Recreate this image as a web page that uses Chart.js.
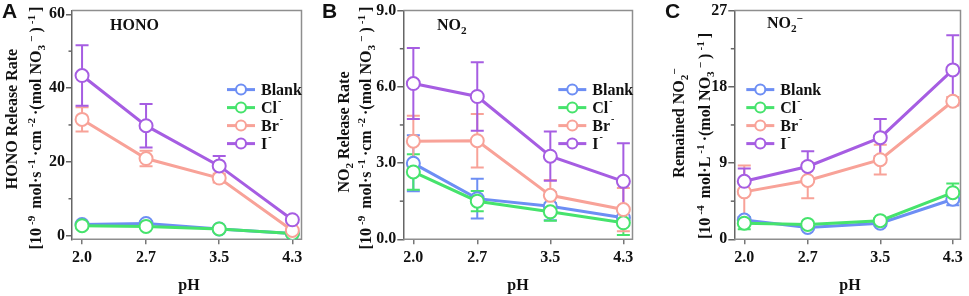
<!DOCTYPE html>
<html>
<head>
<meta charset="utf-8">
<script src="https://cdn.jsdelivr.net/npm/chart.js@4.4.1/dist/chart.umd.min.js"></script>
<style>
  body { margin: 0; background: #fff; }
  #fig { position: relative; width: 969px; height: 296px; overflow: hidden;
         font-family: "Liberation Serif", "Times New Roman", serif; font-weight: bold; color: #111; }
  .panel { position: absolute; top: 0; }
  .lbl { position: absolute; white-space: nowrap; line-height: 1; }
  .rot { transform: translate(-50%, -50%) rotate(-90deg); }
  .mid { transform: translate(-50%, -50%); }
  .vmid { transform: translateY(-50%); }
  .letter { font-family: "Liberation Sans", Arial, sans-serif; font-size: 21px; }
  sup, sub { font-size: 70%; line-height: 0; }
  .unit sup { margin: 0 3px; }
</style>
</head>
<body>
<div id="fig">
  <div class="panel" style="left:0px"><canvas id="cA" width="310" height="296"></canvas></div>
  <div class="panel" style="left:331px"><canvas id="cB" width="310" height="296"></canvas></div>
  <div class="panel" style="left:662px"><canvas id="cC" width="307" height="296"></canvas></div>

  <div class="lbl letter" style="left:2px;top:0px">A</div>
  <div class="lbl letter" style="left:322px;top:0px">B</div>
  <div class="lbl letter" style="left:665px;top:0px">C</div>

  <div class="lbl rot" style="left:12px;top:119px;font-size:16px">HONO Release Rate</div>
  <div class="lbl rot unit" style="left:36px;top:128px;font-size:16px">[10<sup>-9</sup> mol·s<sup>-1</sup>·cm<sup>-2</sup>·(mol NO<sub>3</sub><sup>−</sup>)<sup>-1</sup>]</div>
  <div class="lbl rot" style="left:344px;top:132px;font-size:16px">NO<sub>2</sub> Release Rate</div>
  <div class="lbl rot unit" style="left:366px;top:128px;font-size:16px">[10<sup>-9</sup> mol·s<sup>-1</sup>·cm<sup>-2</sup>·(mol NO<sub>3</sub><sup>−</sup>)<sup>-1</sup>]</div>
  <div class="lbl rot" style="left:679px;top:123px;font-size:16px">Remained NO<sub>2</sub><sup>−</sup></div>
  <div class="lbl rot unit" style="left:705px;top:136px;font-size:16px">[10<sup>-4</sup> mol·L<sup>-1</sup>·(mol NO<sub>3</sub><sup>−</sup>)<sup>-1</sup>]</div>

  <div class="lbl vmid" style="left:110px;top:25px;font-size:16px">HONO</div>
  <div class="lbl vmid" style="left:437px;top:25px;font-size:16px">NO<sub>2</sub></div>
  <div class="lbl vmid" style="left:767px;top:23px;font-size:16px">NO<sub>2</sub><sup>−</sup></div>

  <div class="lbl mid" style="left:189px;top:285px;font-size:16px">pH</div>
  <div class="lbl mid" style="left:518px;top:285px;font-size:16px">pH</div>
  <div class="lbl mid" style="left:850px;top:285px;font-size:16px">pH</div>
</div>
<script>
const phValues = [2.0, 2.7, 3.5, 4.3];
const seriesNames = ['Blank', 'Cl', 'Br', 'I'];
const seriesCharge = ['', '-', '-', '-'];
const seriesColors = ['#6d8ef4', '#46e36c', '#f8a298', '#a65de2'];

// A: HONO release rate
const honoBlank = [3.0, 3.3, 1.8, 0.6];
const honoBlankErr = [0.3, 0.6, 0.3, 0.2];
const honoCl = [2.7, 2.5, 1.8, 0.6];
const honoClErr = [0.3, 0.3, 0.3, 0.2];
const honoBr = [31.5, 20.9, 15.6, 1.4];
const honoBrErr = [3.3, 2.1, 1.2, 0.4];
const honoI = [43.4, 29.8, 18.9, 4.3];
const honoIErr = [8.2, 5.9, 2.7, 0.5];
const honoTicks = [0, 20, 40, 60];
const honoMinor = [10, 30, 50];

// B: NO2 release rate
const no2Blank = [2.99, 1.60, 1.30, 0.85];
const no2BlankErr = [1.1, 0.78, 0.55, 0.25];
const no2Cl = [2.65, 1.50, 1.08, 0.65];
const no2ClErr = [0.7, 0.4, 0.35, 0.48];
const no2Br = [3.86, 3.88, 1.73, 1.17];
const no2BrErr = [1.0, 1.05, 0.6, 0.85];
const no2I = [6.13, 5.62, 3.27, 2.28];
const no2IErr = [1.4, 1.35, 0.97, 1.5];
const no2Ticks = [0, 3, 6, 9];
const no2Minor = [1.5, 4.5, 7.5];

// C: remained NO2-
const remBlank = [2.27, 1.4, 1.9, 4.73];
const remBlankErr = [0.35, 0.2, 0.3, 0.7];
const remCl = [1.9, 1.76, 2.2, 5.5];
const remClErr = [0.7, 0.3, 0.3, 1.1];
const remBr = [5.6, 6.95, 9.4, 16.3];
const remBrErr = [3.1, 2.1, 1.75, 0.5];
const remI = [6.85, 8.6, 12.0, 20.0];
const remIErr = [1.5, 1.8, 2.2, 4.1];
const remTicks = [0, 9, 18, 27];
const remMinor = [4.5, 13.5, 22.5];

const tickFont = { family: '"Liberation Serif", "Times New Roman", serif', size: 16, weight: 'bold' };

const framePlugin = {
  id: 'frame',
  beforeDatasetsDraw(chart) {
    const { ctx, chartArea: a } = chart;
    ctx.save();
    ctx.strokeStyle = '#8e8e8e';
    ctx.lineWidth = 1.5;
    ctx.beginPath();
    ctx.moveTo(a.left, a.top);
    ctx.lineTo(a.right, a.top);
    ctx.lineTo(a.right, a.bottom);
    ctx.lineTo(a.left, a.bottom);
    ctx.stroke();
    ctx.restore();
  }
};

const minorTickPlugin = {
  id: 'minorTicks',
  afterDraw(chart, args, opts) {
    const { ctx, chartArea: a } = chart;
    const ys = chart.scales.y;
    ctx.save();
    ctx.strokeStyle = '#666';
    ctx.lineWidth = 1.5;
    opts.values.forEach(v => {
      const y = ys.getPixelForValue(v);
      ctx.beginPath();
      ctx.moveTo(a.left - 3.5, y);
      ctx.lineTo(a.left, y);
      ctx.stroke();
    });
    ctx.restore();
  }
};

const errorBarPlugin = {
  id: 'errorBars',
  beforeDatasetsDraw(chart) {
    const ctx = chart.ctx, ys = chart.scales.y;
    chart.data.datasets.forEach((ds, i) => {
      const meta = chart.getDatasetMeta(i);
      ctx.save();
      ctx.strokeStyle = ds.borderColor;
      ctx.lineWidth = 2;
      meta.data.forEach((pt, j) => {
        const v = ds.data[j].y, e = ds.errors[j];
        const top = ys.getPixelForValue(v + e), bot = ys.getPixelForValue(v - e);
        ctx.beginPath();
        ctx.moveTo(pt.x, top); ctx.lineTo(pt.x, bot);
        ctx.moveTo(pt.x - 6.5, top); ctx.lineTo(pt.x + 6.5, top);
        ctx.moveTo(pt.x - 6.5, bot); ctx.lineTo(pt.x + 6.5, bot);
        ctx.stroke();
      });
      ctx.restore();
    });
  }
};

const legendPlugin = {
  id: 'insideLegend',
  afterDatasetsDraw(chart, args, opts) {
    const { ctx, chartArea: a } = chart;
    const x0 = a.left + opts.x, y0 = a.top + opts.y;
    chart.data.datasets.forEach((ds, k) => {
      const y = y0 + k * 18;
      ctx.save();
      ctx.strokeStyle = ds.borderColor;
      ctx.lineWidth = 3;
      ctx.beginPath();
      ctx.moveTo(x0, y); ctx.lineTo(x0 + 28, y);
      ctx.stroke();
      ctx.beginPath();
      ctx.arc(x0 + 14, y, 5, 0, Math.PI * 2);
      ctx.fillStyle = '#fff';
      ctx.fill();
      ctx.lineWidth = 2;
      ctx.stroke();
      ctx.fillStyle = '#111';
      ctx.font = 'bold 16px "Liberation Serif", serif';
      ctx.textBaseline = 'middle';
      ctx.fillText(ds.label, x0 + 34, y + 1);
      if (seriesCharge[k]) {
        const w = ctx.measureText(ds.label).width;
        ctx.font = 'bold 10px "Liberation Serif", serif';
        ctx.fillText(seriesCharge[k], x0 + 35 + w, y - 6);
      }
      ctx.restore();
    });
  }
};

function makePanel(p) {
  const datasets = p.series.map((vals, k) => ({
    label: seriesNames[k],
    data: phValues.map((x, j) => ({ x: x, y: vals[j] })),
    errors: p.errors[k],
    borderColor: seriesColors[k],
    backgroundColor: '#ffffff',
    pointBackgroundColor: '#ffffff',
    pointBorderColor: seriesColors[k],
    pointRadius: 6.5,
    pointBorderWidth: 2,
    borderWidth: 3,
    tension: 0,
    order: 3 - k,
  }));
  return new Chart(document.getElementById(p.id), {
    type: 'line',
    data: { datasets },
    options: {
      responsive: false,
      animation: false,
      devicePixelRatio: 1,
      layout: { padding: { left: 0, right: p.padRight, top: 10, bottom: 0 } },
      plugins: {
        legend: { display: false },
        tooltip: { enabled: false },
        insideLegend: p.legend,
        minorTicks: { values: p.yMinor },
      },
      scales: {
        x: {
          type: 'linear',
          min: 1.89,
          max: p.xMax,
          afterBuildTicks: s => { s.ticks = phValues.map(v => ({ value: v })); },
          afterFit: s => { s.height = 56.7; },
          ticks: { font: tickFont, color: '#111', padding: 4, maxRotation: 0, callback: v => v.toFixed(1) },
          grid: { drawOnChartArea: false, tickLength: 5, color: '#777', lineWidth: 1.5 },
          border: { display: false },
        },
        y: {
          min: p.yMin,
          max: p.yMax,
          afterBuildTicks: s => { s.ticks = p.yTicks.map(v => ({ value: v })); },
          afterFit: s => { s.width = p.axisW; },
          ticks: { font: tickFont, color: '#111', padding: 1, callback: p.fmt },
          grid: { drawOnChartArea: false, tickLength: 6, color: '#666', lineWidth: 1.5 },
          border: { color: '#666', width: 1.5 },
        },
      },
    },
    plugins: [framePlugin, errorBarPlugin, legendPlugin, minorTickPlugin],
  });
}

makePanel({
  id: 'cA', axisW: 72, padRight: 7.6, xMax: 4.40, yMin: -1, yMax: 61,
  yTicks: honoTicks, yMinor: honoMinor, fmt: v => String(v),
  series: [honoBlank, honoCl, honoBr, honoI],
  errors: [honoBlankErr, honoClErr, honoBrErr, honoIErr],
  legend: { x: 155, y: 79 },
});
makePanel({
  id: 'cB', axisW: 72.3, padRight: 7.3, xMax: 4.40, yMin: 0, yMax: 9,
  yTicks: no2Ticks, yMinor: no2Minor, fmt: v => v.toFixed(1),
  series: [no2Blank, no2Cl, no2Br, no2I],
  errors: [no2BlankErr, no2ClErr, no2BrErr, no2IErr],
  legend: { x: 155, y: 79 },
});
makePanel({
  id: 'cC', axisW: 72.3, padRight: 5.7, xMax: 4.385, yMin: 0, yMax: 27,
  yTicks: remTicks, yMinor: remMinor, fmt: v => String(v),
  series: [remBlank, remCl, remBr, remI],
  errors: [remBlankErr, remClErr, remBrErr, remIErr],
  legend: { x: 12, y: 79 },
});
</script>
</body>
</html>
